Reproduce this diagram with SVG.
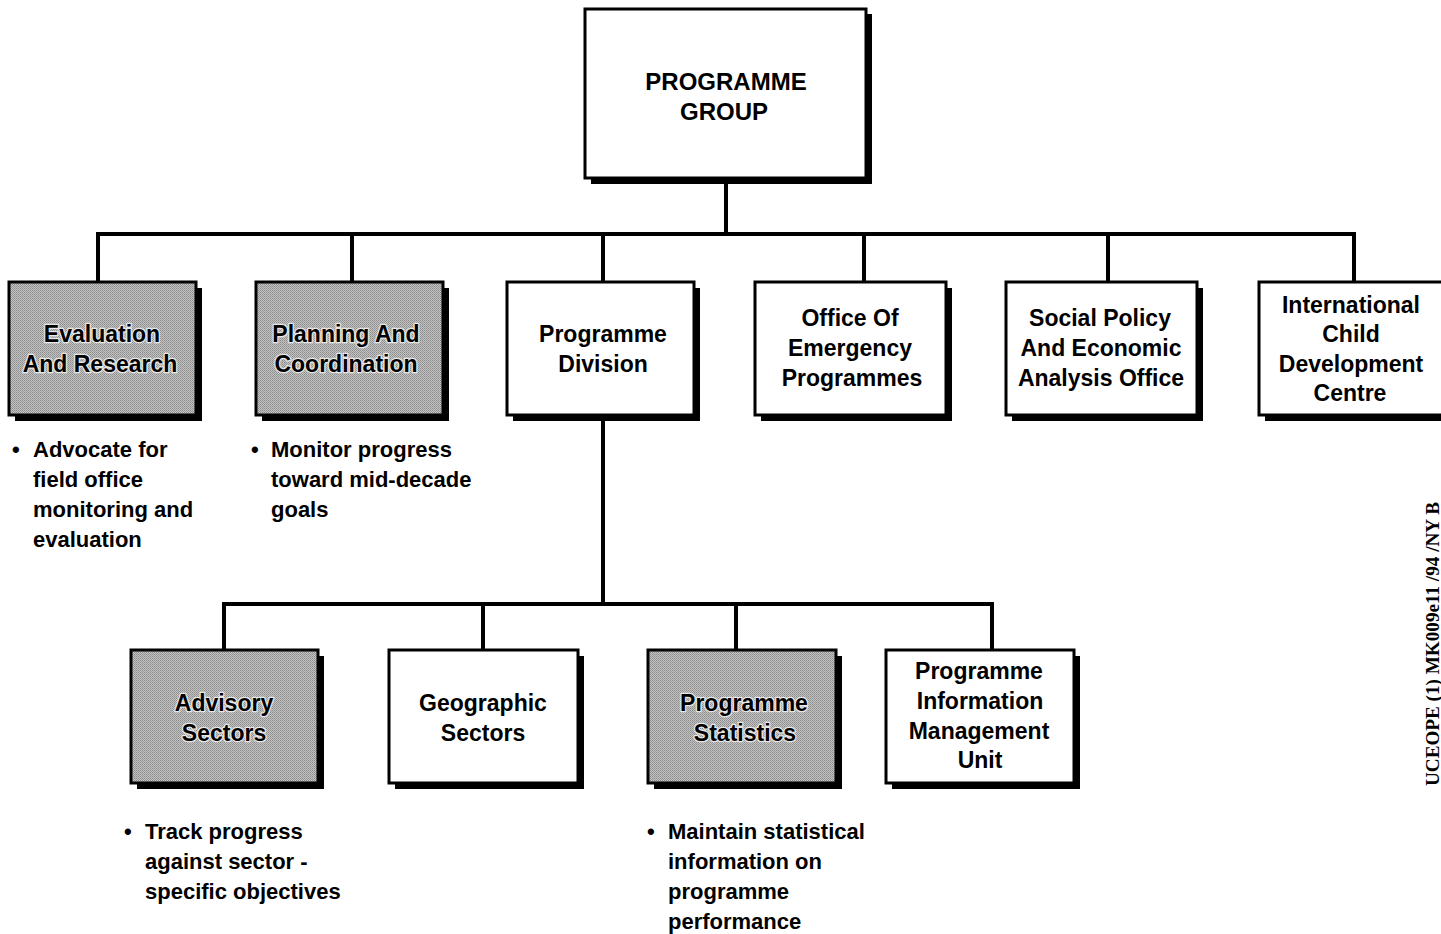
<svg xmlns="http://www.w3.org/2000/svg" width="1441" height="934" viewBox="0 0 1441 934">
<defs>
<pattern id="dots" width="2" height="2" patternUnits="userSpaceOnUse">
<rect width="2" height="2" fill="#c4c4c4"/>
<rect width="1" height="1" fill="#8a8a8a"/>
<rect x="1" y="1" width="1" height="1" fill="#9a9a9a"/>
</pattern>
</defs>
<style>
.box{stroke:#000;stroke-width:3;fill:#fff}
.gray{fill:url(#dots)}
.sh{fill:#000}
.t{font-family:"Liberation Sans",Arial,sans-serif;font-size:23px;fill:#000;text-anchor:middle;font-weight:600}
.tg{stroke:#e8e8e8;stroke-width:2.5;paint-order:stroke;stroke-linejoin:round}
.b{font-family:"Liberation Sans",Arial,sans-serif;font-size:22px;fill:#000;font-weight:600}
.title{font-family:"Liberation Sans",Arial,sans-serif;font-size:24px;font-weight:bold;fill:#000;text-anchor:middle}
.c{stroke:#000;stroke-width:4;fill:none}
.side{font-family:"Liberation Serif","Times New Roman",serif;font-size:19px;fill:#000;font-weight:bold}
</style>
<g id="connectors">
<path class="c" d="M726 178V234M98 282V234H1354V282M352 234V282M603 234V282M864 234V282M1108 234V282"/>
<path class="c" d="M603 414V604M224 650V604H992V650M483 604V650M736 604V650"/>
</g>
<g id="programme-group">
<rect class="sh" x="591" y="14" width="281" height="170"/>
<rect class="box" x="585" y="9" width="281" height="169"/>
<text class="title" x="726" y="90">PROGRAMME</text>
<text class="title" x="724" y="120">GROUP</text>
</g>
<g id="evaluation">
<rect class="sh" x="15" y="288" width="187" height="133"/>
<rect class="box gray" x="9" y="282" width="187" height="133"/>
<text class="t tg" x="102" y="342">Evaluation</text>
<text class="t tg" x="100" y="372">And Research</text>
</g>
<g id="planning">
<rect class="sh" x="262" y="288" width="187" height="133"/>
<rect class="box gray" x="256" y="282" width="187" height="133"/>
<text class="t tg" x="346" y="342">Planning And</text>
<text class="t tg" x="346" y="372">Coordination</text>
</g>
<g id="programme-division">
<rect class="sh" x="513" y="288" width="187" height="133"/>
<rect class="box" x="507" y="282" width="187" height="133"/>
<text class="t" x="603" y="342">Programme</text>
<text class="t" x="603" y="372">Division</text>
</g>
<g id="emergency">
<rect class="sh" x="761" y="288" width="191" height="133"/>
<rect class="box" x="755" y="282" width="191" height="133"/>
<text class="t" x="850" y="326">Office Of</text>
<text class="t" x="850" y="356">Emergency</text>
<text class="t" x="852" y="386">Programmes</text>
</g>
<g id="social-policy">
<rect class="sh" x="1012" y="288" width="191" height="133"/>
<rect class="box" x="1006" y="282" width="191" height="133"/>
<text class="t" x="1100" y="326">Social Policy</text>
<text class="t" x="1101" y="356">And Economic</text>
<text class="t" x="1101" y="386">Analysis Office</text>
</g>
<g id="icdc">
<rect class="sh" x="1265" y="288" width="190" height="133"/>
<rect class="box" x="1259" y="282" width="190" height="133"/>
<text class="t" x="1351" y="313">International</text>
<text class="t" x="1351" y="342">Child</text>
<text class="t" x="1351" y="372">Development</text>
<text class="t" x="1350" y="401">Centre</text>
</g>
<g id="advisory">
<rect class="sh" x="137" y="656" width="187" height="133"/>
<rect class="box gray" x="131" y="650" width="187" height="133"/>
<text class="t tg" x="224" y="711">Advisory</text>
<text class="t tg" x="224" y="741">Sectors</text>
</g>
<g id="geographic">
<rect class="sh" x="395" y="656" width="189" height="133"/>
<rect class="box" x="389" y="650" width="189" height="133"/>
<text class="t" x="483" y="711">Geographic</text>
<text class="t" x="483" y="741">Sectors</text>
</g>
<g id="statistics">
<rect class="sh" x="654" y="656" width="188" height="133"/>
<rect class="box gray" x="648" y="650" width="188" height="133"/>
<text class="t tg" x="744" y="711">Programme</text>
<text class="t tg" x="745" y="741">Statistics</text>
</g>
<g id="pimu">
<rect class="sh" x="892" y="656" width="188" height="133"/>
<rect class="box" x="886" y="650" width="188" height="133"/>
<text class="t" x="979" y="679">Programme</text>
<text class="t" x="980" y="709">Information</text>
<text class="t" x="979" y="739">Management</text>
<text class="t" x="980" y="768">Unit</text>
</g>
<g id="notes">
<text class="b" x="12" y="457">•</text>
<text class="b" x="33" y="457">Advocate for</text>
<text class="b" x="33" y="487">field office</text>
<text class="b" x="33" y="517">monitoring and</text>
<text class="b" x="33" y="547">evaluation</text>
<text class="b" x="251" y="457">•</text>
<text class="b" x="271" y="457">Monitor progress</text>
<text class="b" x="271" y="487">toward mid-decade</text>
<text class="b" x="271" y="517">goals</text>
<text class="b" x="124" y="839">•</text>
<text class="b" x="145" y="839">Track progress</text>
<text class="b" x="145" y="869">against sector -</text>
<text class="b" x="145" y="899">specific objectives</text>
<text class="b" x="647" y="839">•</text>
<text class="b" x="668" y="839">Maintain statistical</text>
<text class="b" x="668" y="869">information on</text>
<text class="b" x="668" y="899">programme</text>
<text class="b" x="668" y="929">performance</text>
</g>
<text class="side" transform="translate(1439 786) rotate(-90)" textLength="284" lengthAdjust="spacingAndGlyphs">UCEOPE (1) MK009e11 /94 /NY B</text>
</svg>
